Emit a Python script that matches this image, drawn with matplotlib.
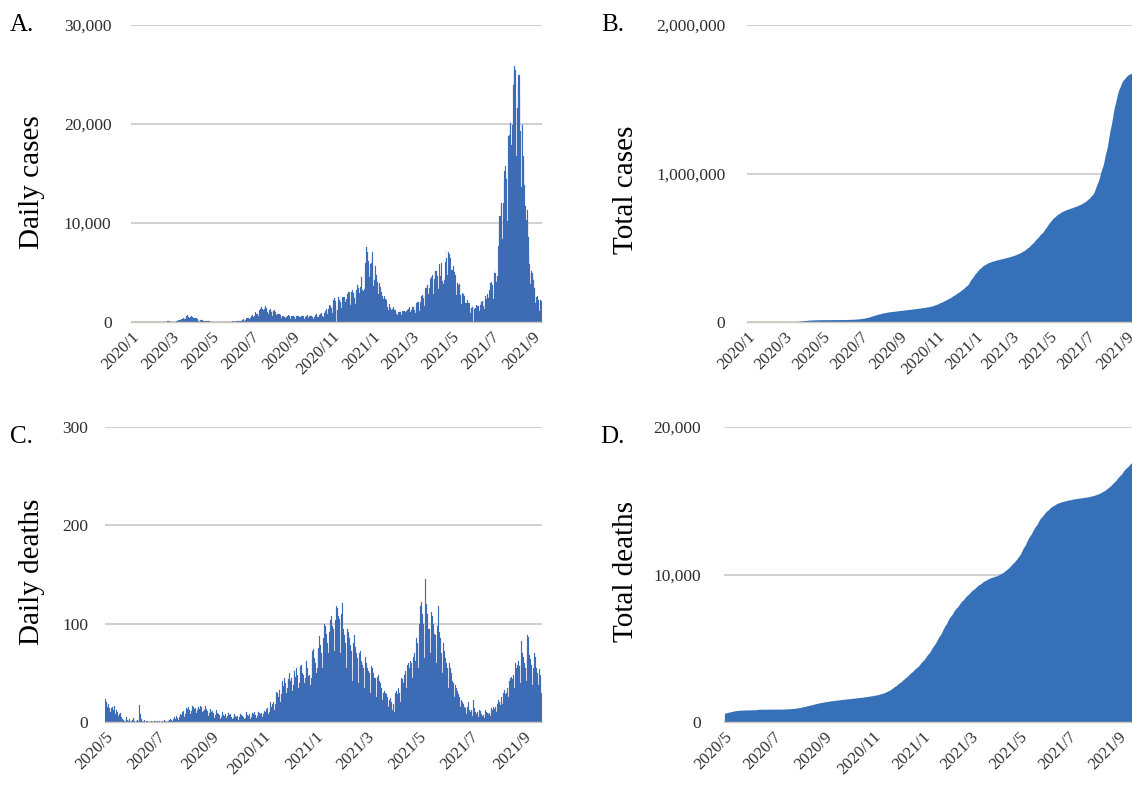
import numpy as np
import pandas as pd
import matplotlib
matplotlib.use("Agg")
import matplotlib.pyplot as plt

plt.rcParams['font.family'] = ['Liberation Serif', 'DejaVu Serif']

# ---------------- data ----------------
cases_start = '2020-01-16'   # daily cases, one value per day (weeks start on Thursday)
daily_cases = [
    1, 0, 0, 0, 0, 1, 1,
    0, 2, 0, 0, 2, 1, 3,
    3, 2, 3, 0, 0, 1, 5,
    0, 1, 0, 0, 1, 13, 8,
    4, 8, 5, 6, 5, 11, 8,
    12, 13, 9, 11, 15, 15, 10,
    18, 22, 12, 14, 19, 11, 33,
    27, 42, 59, 47, 33, 26, 52,
    56, 41, 62, 34, 15, 44, 39,
    38, 39, 53, 43, 39, 41, 93,
    97, 123, 200, 173, 87, 220, 265,
    234, 352, 357, 368, 253, 351, 511,
    576, 680, 714, 549, 390, 457, 549,
    591, 574, 550, 380, 251, 370, 384,
    433, 440, 300, 203, 148, 197, 235,
    165, 227, 242, 189, 118, 87, 123,
    97, 82, 82, 59, 55, 93, 104,
    69, 49, 84, 34, 37, 26, 32,
    26, 20, 41, 14, 21, 11, 14,
    34, 45, 45, 39, 27, 36, 34,
    45, 39, 54, 47, 17, 26, 41,
    41, 47, 44, 79, 38, 40, 63,
    70, 41, 35, 52, 48, 31, 60,
    83, 104, 96, 89, 86, 117, 124,
    194, 250, 274, 206, 102, 207, 193,
    355, 430, 384, 407, 264, 333, 452,
    622, 664, 661, 510, 465, 631, 795,
    981, 775, 780, 855, 598, 982, 1261,
    1301, 1580, 1536, 1331, 961, 1235, 1354,
    1485, 1595, 1440, 1360, 1017, 835, 1232,
    1178, 1357, 1231, 1010, 605, 1180, 1069,
    1179, 1033, 1007, 747, 515, 760, 843,
    884, 853, 755, 599, 434, 631, 584,
    586, 569, 512, 432, 291, 508, 605,
    651, 678, 627, 430, 280, 590, 530,
    585, 590, 520, 480, 345, 300, 580,
    560, 520, 630, 460, 300, 500, 570,
    610, 560, 560, 410, 280, 490, 580,
    640, 690, 600, 430, 340, 630, 600,
    660, 620, 520, 400, 310, 460, 600,
    720, 760, 740, 500, 480, 620, 730,
    810, 760, 870, 620, 480, 500, 880,
    1050, 1150, 1330, 1100, 800, 1270, 1550,
    1700, 1660, 1720, 1440, 950, 1680, 2200,
    2390, 2420, 2160, 1520, 1210, 1230, 1940,
    2500, 2220, 2670, 2050, 1430, 2000, 2510,
    2510, 2430, 2500, 2000, 1550, 2300, 2800,
    2970, 3050, 3040, 2380, 1700, 2990, 3180,
    3210, 2970, 2880, 2470, 1770, 2990, 3270,
    3740, 3820, 3480, 2900, 2320, 3580, 4520,
    4500, 3270, 3100, 3000, 3300, 4900, 6000,
    7570, 7880, 7030, 6120, 4930, 4540, 5900,
    6600, 6000, 7100, 5750, 3600, 4260, 5300,
    5700, 4750, 4710, 3990, 2790, 3850, 3970,
    3540, 3350, 3030, 2670, 1780, 2320, 2630,
    2570, 2280, 2270, 1890, 1540, 1240, 1620,
    1780, 1420, 1660, 1210, 1040, 1300, 1540,
    1310, 1240, 1230, 1120, 760, 750, 1000,
    1060, 1010, 1230, 990, 690, 940, 1150,
    1140, 1050, 1160, 990, 790, 1120, 1230,
    1270, 1280, 1480, 1070, 990, 1170, 1460,
    1470, 1510, 1580, 1260, 950, 1550, 1900,
    2010, 1910, 1970, 1850, 1100, 2010, 2590,
    2610, 2760, 2760, 2460, 1570, 2660, 3460,
    3450, 3690, 3700, 2780, 1980, 3460, 4320,
    4560, 4520, 4780, 3620, 2830, 4320, 5250,
    5120, 5140, 5000, 4670, 3310, 3700, 5850,
    4660, 5200, 6000, 4130, 3070, 3810, 4200,
    4530, 6050, 7240, 6420, 4720, 5230, 7050,
    6860, 6260, 6420, 5250, 3680, 5230, 5700,
    5270, 5030, 4700, 3570, 2680, 3900, 4130,
    3700, 3840, 3600, 2680, 1790, 2640, 2960,
    2840, 2760, 2660, 1930, 1430, 1880, 2200,
    1940, 1940, 1930, 1390, 930, 1440, 1700,
    1560, 1660, 1550, 1310, 1000, 1450, 1710,
    1670, 1640, 1610, 1320, 1150, 1760, 2090,
    2060, 2080, 2160, 1640, 1280, 2180, 2600,
    2300, 2520, 2830, 2470, 1760, 3200, 3890,
    3430, 4020, 3720, 3100, 2330, 4940, 5390,
    5000, 3990, 4230, 4690, 7630, 9580, 10700,
    10750, 12340, 12010, 10170, 8390, 12010, 14200,
    15260, 15750, 15040, 14430, 10180, 12360, 18820,
    18870, 20370, 20150, 17880, 13060, 19910, 23910,
    25150, 25870, 25470, 22210, 16760, 21590, 24050,
    24950, 24980, 22730, 19290, 13680, 20020, 19860,
    16750, 16060, 13860, 11740, 7810, 10340, 11360,
    9860, 8550, 7220, 5900, 3870, 4810, 5110,
    4970, 4750, 4200, 3460, 3530, 1880, 2570,
    2130, 2660, 2220, 1870, 1150, 2240, 2370,
    2100,
]

deaths_start = '2020-05-09'  # daily deaths, one value per day (weeks start on Saturday)
deaths_before_start = 560
daily_deaths = [
    23, 20, 15, 12, 18, 14, 10,
    14, 15, 12, 10, 16, 8, 12,
    10, 6, 8, 4, 9, 5, 3,
    2, 1, 0, 3, 5, 2, 1,
    3, 0, 1, 0, 2, 4, 1,
    0, 1, 2, 0, 1, 17, 8,
    3, 1, 0, 1, 2, 0, 1,
    1, 0, 0, 1, 0, 1, 0,
    0, 1, 1, 0, 0, 1, 0,
    1, 0, 0, 1, 1, 0, 2,
    1, 0, 0, 2, 1, 2, 3,
    2, 1, 3, 4, 5, 3, 6,
    4, 2, 5, 6, 8, 7, 10,
    11, 5, 8, 12, 14, 13, 15,
    12, 8, 11, 14, 16, 15, 13,
    14, 9, 12, 16, 15, 13, 16,
    15, 10, 11, 14, 12, 16, 13,
    11, 6, 9, 12, 13, 10, 11,
    9, 4, 7, 10, 12, 9, 8,
    7, 3, 5, 8, 10, 7, 6,
    8, 4, 6, 10, 9, 7, 8,
    5, 3, 4, 7, 8, 6, 5,
    6, 2, 5, 9, 8, 7, 6,
    5, 3, 4, 8, 10, 7, 6,
    8, 3, 5, 10, 9, 8, 10,
    7, 4, 6, 11, 10, 9, 8,
    9, 5, 8, 12, 11, 10, 13,
    14, 8, 10, 17, 20, 15, 18,
    20, 12, 18, 25, 31, 29, 25,
    33, 20, 28, 40, 42, 37, 45,
    40, 30, 35, 46, 44, 50, 42,
    45, 32, 38, 57, 52, 46, 55,
    48, 35, 40, 55, 57, 58, 50,
    48, 40, 45, 60, 62, 55, 47,
    48, 38, 45, 64, 72, 74, 65,
    60, 50, 55, 70, 75, 87, 78,
    70, 55, 65, 85, 100, 98, 90,
    80, 70, 75, 92, 104, 108, 98,
    95, 72, 85, 104, 118, 116, 108,
    105, 70, 90, 110, 121, 95, 88,
    80, 55, 75, 95, 92, 85, 78,
    72, 42, 55, 80, 88, 76, 70,
    65, 40, 55, 70, 72, 62, 58,
    55, 35, 48, 66, 60, 55, 52,
    50, 30, 40, 57, 55, 50, 45,
    45, 25, 30, 46, 48, 42, 40,
    35, 22, 28, 30, 32, 30, 28,
    25, 15, 18, 22, 24, 20, 12,
    18, 10, 22, 30, 32, 28, 35,
    30, 20, 38, 45, 44, 40, 48,
    52, 35, 50, 58, 60, 55, 62,
    60, 45, 55, 66, 70, 62, 85,
    80, 55, 75, 100, 118, 122, 110,
    100, 65, 90, 145, 120, 110, 95,
    95, 70, 85, 112, 108, 100, 90,
    88, 60, 75, 98, 118, 92, 85,
    70, 50, 60, 80, 72, 65, 60,
    55, 35, 45, 60, 55, 50, 42,
    40, 25, 30, 38, 35, 32, 28,
    25, 15, 18, 22, 20, 18, 15,
    14, 8, 10, 15, 20, 12, 10,
    12, 6, 9, 22, 14, 10, 8,
    10, 5, 7, 12, 11, 8, 6,
    7, 4, 5, 12, 10, 9, 8,
    9, 6, 8, 14, 12, 15, 13,
    15, 10, 12, 18, 22, 20, 17,
    25, 18, 20, 30, 33, 28, 30,
    35, 25, 30, 42, 45, 46, 44,
    48, 35, 45, 60, 55, 58, 62,
    57, 40, 58, 82, 70, 66, 60,
    55, 42, 65, 88, 86, 68, 64,
    58, 38, 46, 55, 70, 66, 55,
    50, 38, 45, 54, 48, 30,
]

case_ticks = ['2020-01-16', '2020-03-16', '2020-05-16', '2020-07-16', '2020-09-16', '2020-11-16',
              '2021-01-16', '2021-03-16', '2021-05-16', '2021-07-16', '2021-09-16']
case_tick_labels = ['2020/1', '2020/3', '2020/5', '2020/7', '2020/9', '2020/11',
                    '2021/1', '2021/3', '2021/5', '2021/7', '2021/9']
death_ticks = ['2020-05-09', '2020-07-09', '2020-09-09', '2020-11-09',
               '2021-01-09', '2021-03-09', '2021-05-09', '2021-07-09', '2021-09-09']
death_tick_labels = ['2020/5', '2020/7', '2020/9', '2020/11',
                     '2021/1', '2021/3', '2021/5', '2021/7', '2021/9']

daily_cases_yticks = [0, 10000, 20000, 30000]
total_cases_yticks = [0, 1000000, 2000000]
daily_deaths_yticks = [0, 100, 200, 300]
total_deaths_yticks = [0, 10000, 20000]

# ---------------- derived series ----------------
case_dates = pd.date_range(cases_start, periods=len(daily_cases), freq='D')
death_dates = pd.date_range(deaths_start, periods=len(daily_deaths), freq='D')
total_cases = np.cumsum(daily_cases)
total_deaths = deaths_before_start + np.cumsum(daily_deaths)

# ---------------- figure ----------------
W, H = 1132, 787
fig = plt.figure(figsize=(W / 100, H / 100), dpi=100)

BLUE = '#3670B8'
EDGE = '#5A62B4'
GRID = '#C3C3C3'
TICKC = '#2E2E2E'


def add_ax(l, r, t, b):
    return fig.add_axes([l / W, 1 - b / H, (r - l) / W, (b - t) / H])


def style(ax, yticks, ticks, labels, xlim, ypad):
    ax.set_ylim(yticks[0], yticks[-1])
    ax.set_yticks(yticks)
    ax.set_yticklabels([f'{v:,}' for v in yticks])
    ax.set_xticks(pd.to_datetime(ticks))
    ax.set_xticklabels(labels, rotation=45, ha='right', rotation_mode='anchor')
    ax.set_xlim(pd.Timestamp(xlim[0]) - pd.Timedelta(hours=12), pd.Timestamp(xlim[1]) + pd.Timedelta(hours=12))
    ax.yaxis.grid(True, color=GRID, lw=1.1)
    ax.set_axisbelow(True)
    for s in ['top', 'right', 'left']:
        ax.spines[s].set_visible(False)
    ax.spines['bottom'].set_color('#CFC8BC')
    ax.spines['bottom'].set_linewidth(1.0)
    ax.tick_params(axis='y', length=0, pad=ypad, labelsize=12.5, labelcolor=TICKC)
    ax.tick_params(axis='x', length=0, pad=5, labelsize=12, labelcolor=TICKC)


# A: daily cases
axA = add_ax(131, 542, 25, 322)
axA.bar(case_dates, daily_cases, width=1.0, color=BLUE, edgecolor=EDGE, linewidth=0.12)
style(axA, daily_cases_yticks, case_ticks, case_tick_labels,
      (case_dates[0], case_dates[-1]), 14)

# B: total cases
axB = add_ax(747, 1135, 25, 322)
axB.fill_between(case_dates, 0, total_cases, color=BLUE, lw=0)
style(axB, total_cases_yticks, case_ticks, case_tick_labels,
      (case_dates[0], case_dates[-1]), 15.5)

# C: daily deaths
axC = add_ax(105, 542, 427, 722)
axC.bar(death_dates, daily_deaths, width=1.0, color=BLUE, edgecolor=EDGE, linewidth=0.12)
style(axC, daily_deaths_yticks, death_ticks, death_tick_labels,
      (death_dates[0], death_dates[-1]), 12)

# D: total deaths
axD = add_ax(724, 1136, 427, 722)
axD.fill_between(death_dates, 0, total_deaths, color=BLUE, lw=0)
style(axD, total_deaths_yticks, death_ticks, death_tick_labels,
      (death_dates[0], death_dates[-1]), 16.5)

# axis titles and panel letters
def ftext(x, y, s, **kw):
    fig.text(x / W, 1 - y / H, s, **kw)

ftext(32, 182, 'Daily cases', rotation=90, ha='center', va='center', fontsize=21)
ftext(626, 190, 'Total cases', rotation=90, ha='center', va='center', fontsize=21)
ftext(32, 572, 'Daily deaths', rotation=90, ha='center', va='center', fontsize=21)
ftext(626, 572, 'Total deaths', rotation=90, ha='center', va='center', fontsize=21)

ftext(10, 25, 'A.', ha='left', va='center', fontsize=18)
ftext(601, 25, 'B.', ha='left', va='center', fontsize=18)
ftext(10, 437, 'C.', ha='left', va='center', fontsize=18)
ftext(600, 437, 'D.', ha='left', va='center', fontsize=18)

fig.savefig('out.png', dpi=100)
